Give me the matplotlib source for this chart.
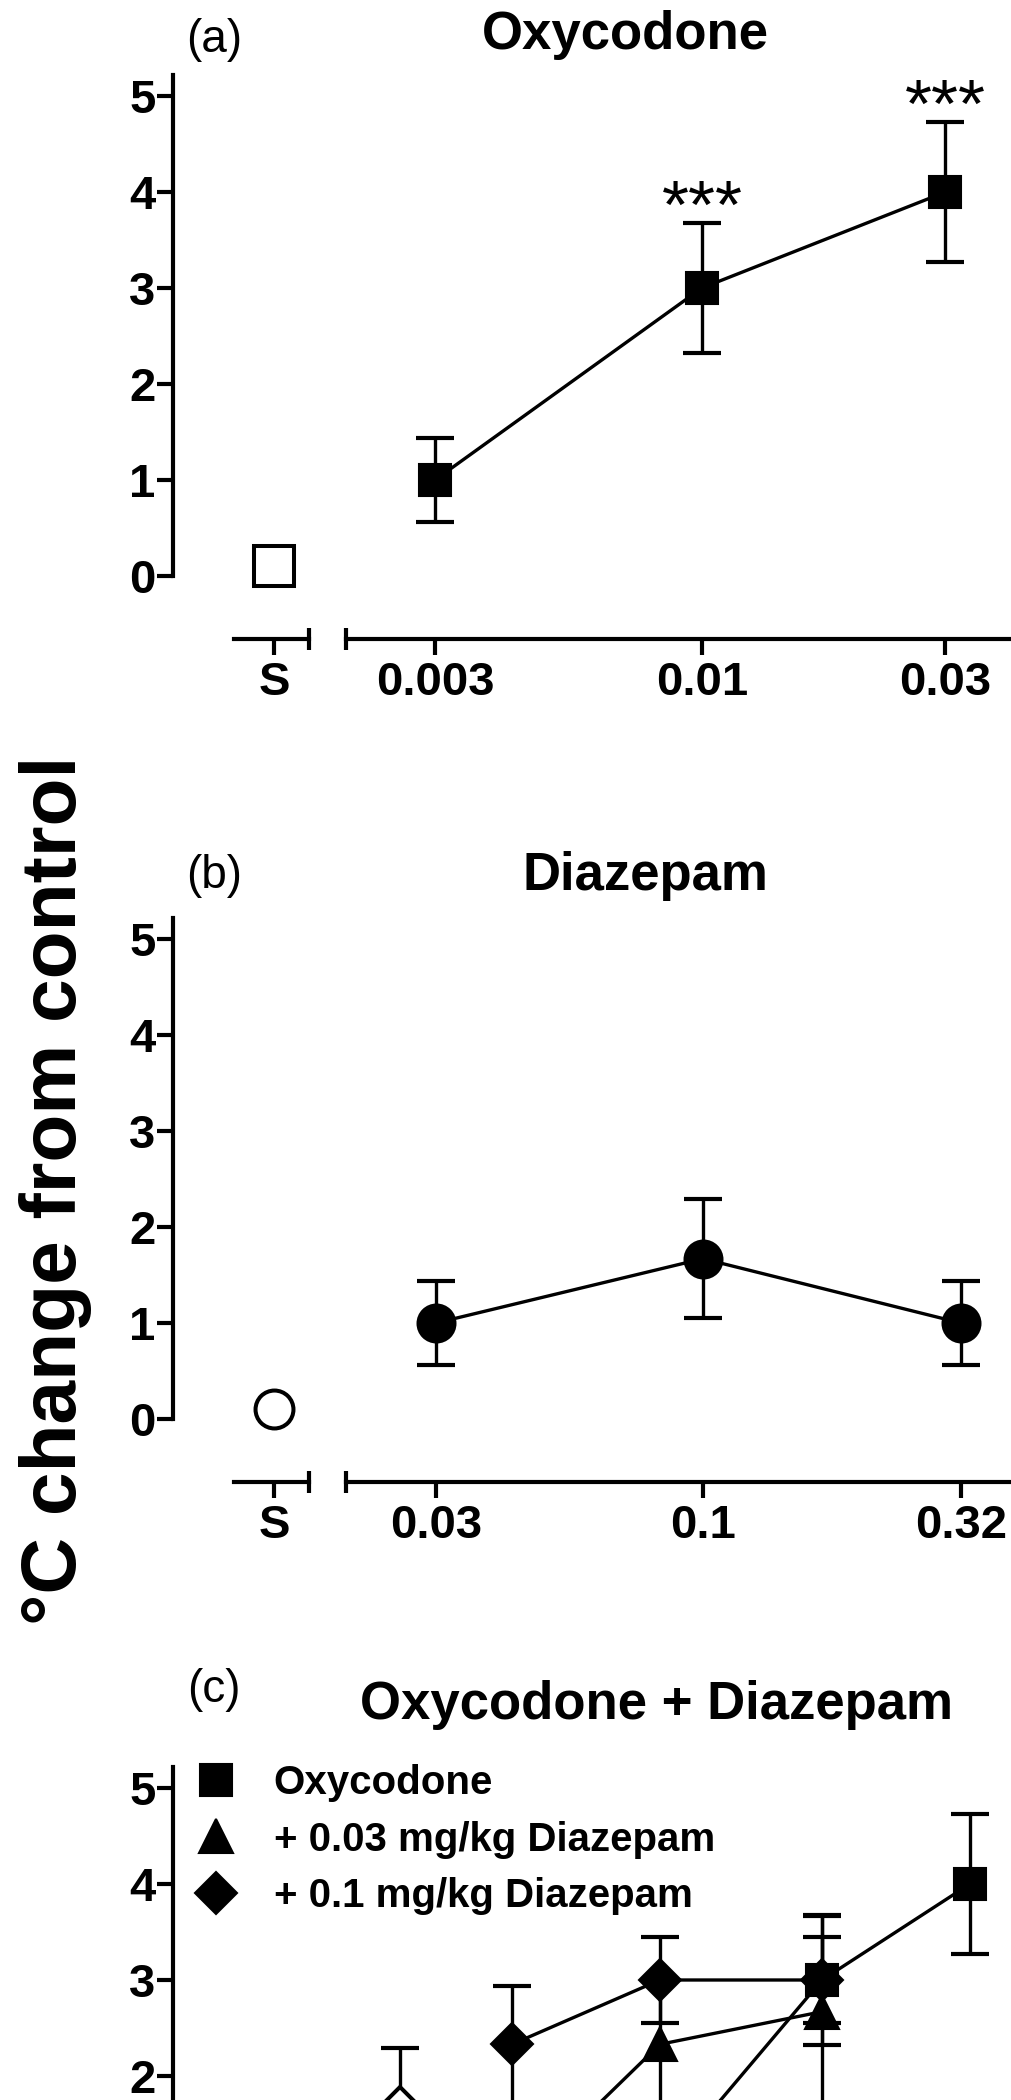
import numpy as np
import matplotlib
matplotlib.use('Agg')
import matplotlib.pyplot as plt
from matplotlib.lines import Line2D
from matplotlib.ticker import FixedLocator, NullFormatter

plt.rcParams['font.family'] = ['Liberation Sans', 'DejaVu Sans']
plt.rcParams['font.weight'] = 'bold'

# (a) oxycodone alone, mg/kg
oxy_doses = [0.003, 0.01, 0.03]
oxy_mean = [1.0, 3.0, 4.0]
oxy_sem = [0.44, 0.68, 0.73]
oxy_stars = ['', '***', '***']
oxy_saline = 0.1

# (b) diazepam alone, mg/kg
dzp_doses = [0.03, 0.1, 0.32]
dzp_mean = [1.0, 1.67, 1.0]
dzp_sem = [0.44, 0.62, 0.44]
dzp_saline = 0.1

# (c) oxycodone + diazepam
combo_ticks = [0.001, 0.003, 0.01, 0.03]
c_oxy_doses = [0.003, 0.01, 0.03]
c_oxy_mean = [1.0, 3.0, 4.0]
c_oxy_sem = [0.44, 0.68, 0.73]
c_d03_doses = [0.001, 0.003, 0.01]
c_d03_mean = [0.83, 2.33, 2.67]
c_d03_sem = [0.5, 0.67, 1.0]
c_d10_doses = [0.001, 0.003, 0.01]
c_d10_mean = [2.33, 3.0, 3.0]
c_d10_sem = [0.61, 0.45, 0.45]
c_saline_mean = [0.1, 1.0, 1.67]
c_saline_sem = [0.0, 0.44, 0.62]

legend_labels = ['Oxycodone', '+ 0.03 mg/kg Diazepam', '+ 0.1 mg/kg Diazepam']

W, H = 1012, 2100
UNIT = 96.0          # pixels per degree
Y_LO, Y_HI = -0.656, 5.3
LEFT = 173
RIGHT = 1040


def fx(px):
    return px / W


def fy(py):
    return 1 - py / H


fig = plt.figure(figsize=(W / 100, H / 100), dpi=100)


def make_panel(zero_px, s_px, main_left, anchor_dose, anchor_px, ppd, seg_px,
               ticks, ticklabels):
    bottom_px = zero_px - Y_LO * UNIT
    top_px = zero_px - Y_HI * UNIT
    y0 = fy(bottom_px)
    h = (bottom_px - top_px) / H

    # saline part, with the y axis
    s_right = main_left - 10
    axs = fig.add_axes([fx(LEFT), y0, fx(s_right - LEFT), h])
    axs.set_facecolor('none')
    axs.set_xlim(LEFT - s_px, s_right - s_px)
    axs.set_ylim(Y_LO, Y_HI)
    for side in ['top', 'right']:
        axs.spines[side].set_visible(False)
    axs.spines['left'].set_bounds(0, 5.22)
    axs.spines['bottom'].set_bounds(-40, 35)
    axs.set_yticks(range(6))
    axs.set_xticks([0], ['S'])
    axs.xaxis.set_minor_locator(FixedLocator([35]))

    # dose part, log scale
    axm = fig.add_axes([fx(main_left), y0, fx(RIGHT - main_left), h])
    axm.set_facecolor('none')
    axm.set_xscale('log')
    la = np.log10(anchor_dose)
    xl = 10 ** (la + (np.array([main_left, RIGHT]) - anchor_px) / ppd)
    seg = 10 ** (la + (seg_px - anchor_px) / ppd)
    axm.set_xlim(xl[0], xl[1])
    axm.set_ylim(Y_LO, Y_HI)
    for side in ['top', 'right', 'left']:
        axm.spines[side].set_visible(False)
    axm.spines['bottom'].set_bounds(seg, xl[1])
    axm.set_xticks(ticks, ticklabels)
    axm.xaxis.set_minor_locator(FixedLocator([seg]))
    axm.xaxis.set_minor_formatter(NullFormatter())
    axm.tick_params(axis='y', left=False, labelleft=False)

    for ax in (axs, axm):
        for sp in ax.spines.values():
            sp.set_linewidth(3)
        ax.tick_params(axis='both', which='major', direction='out',
                       length=11.5, width=3, labelsize=34)
        ax.tick_params(axis='y', pad=1)
        ax.tick_params(axis='x', pad=4)
        ax.tick_params(axis='x', which='minor', direction='inout',
                       length=16, width=3)
    return axs, axm


def series(ax, x, mean, sem, marker, ms, filled=True, line=True):
    ax.errorbar(x, mean, yerr=sem, fmt='none', ecolor='black',
                elinewidth=2.4, capsize=13.5, capthick=3, zorder=2)
    ax.plot(x, mean, color='black', lw=2.4 if line else 0,
            marker=marker, ms=ms,
            mfc='black' if filled else 'white', mec='black',
            mew=1.5 if filled else 2.9, zorder=3)


# ---- (a) ----
axs_a, axm_a = make_panel(576, 274, 330, 0.003, 435, 510.5, 346,
                          oxy_doses, ['0.003', '0.01', '0.03'])
series(axm_a, oxy_doses, oxy_mean, oxy_sem, 's', 23)
axs_a.plot([0], [oxy_saline], marker='s', ms=28.8, mfc='white', mec='black',
           mew=2.9, lw=0)
for d, m, e, st in zip(oxy_doses, oxy_mean, oxy_sem, oxy_stars):
    if st:
        axm_a.annotate(st, xy=(d, m + e), xytext=(0, -3.5),
                       textcoords='offset points', ha='center',
                       va='baseline', fontsize=50, fontweight='normal')

# ---- (b) ----
axs_b, axm_b = make_panel(1419, 274, 330, 0.03, 436, 510.5, 346,
                          dzp_doses, ['0.03', '0.1', '0.32'])
series(axm_b, dzp_doses, dzp_mean, dzp_sem, 'o', 27.3)
axs_b.plot([0], [dzp_saline], marker='o', ms=27.3, mfc='white', mec='black',
           mew=2.9, lw=0)

# ---- (c) ----
axs_c, axm_c = make_panel(2268, 400, 450, 0.001, 512, 310, 470,
                          combo_ticks, ['0.001', '0.003', '0.01', '0.03'])
series(axm_c, c_oxy_doses, c_oxy_mean, c_oxy_sem, 's', 23)
series(axm_c, c_d03_doses, c_d03_mean, c_d03_sem, '^', 25)
series(axm_c, c_d10_doses, c_d10_mean, c_d10_sem, 'D', 21.5)
for mk, ms, m, e in zip(['s', '^', 'D'], [28.8, 25, 21.5], c_saline_mean,
                        c_saline_sem):
    series(axs_c, [0], [m], [e], mk, ms, filled=False, line=False)

handles = [Line2D([], [], ls='none', marker='s', ms=23, color='black', mew=1.5),
           Line2D([], [], ls='none', marker='^', ms=25, color='black', mew=1.5),
           Line2D([], [], ls='none', marker='D', ms=21.5, color='black', mew=1.5)]
axm_c.legend(handles, legend_labels, loc='upper left',
             bbox_to_anchor=(fx(196.5), fy(1764)), bbox_transform=fig.transFigure,
             frameon=False, borderpad=0, borderaxespad=0, handlelength=0.97,
             handletextpad=0.95, labelspacing=0.46,
             prop={'size': 29, 'weight': 'bold'})

# titles and panel letters
fig.text(fx(625), fy(49), 'Oxycodone', ha='center', va='baseline', fontsize=38)
fig.text(fx(645), fy(890), 'Diazepam', ha='center', va='baseline', fontsize=38)
fig.text(fx(656), fy(1719), 'Oxycodone + Diazepam', ha='center',
         va='baseline', fontsize=38)
for lab, yc in zip(['(a)', '(b)', '(c)'], [40, 876, 1690]):
    fig.text(fx(214), fy(yc), lab, ha='center', va='center', fontsize=33,
             fontweight='normal')

fig.text(fx(76), fy(1190), '°C change from control', rotation=90,
         rotation_mode='anchor', ha='center', va='baseline', fontsize=56.5)

fig.savefig('out.png', dpi=100)
